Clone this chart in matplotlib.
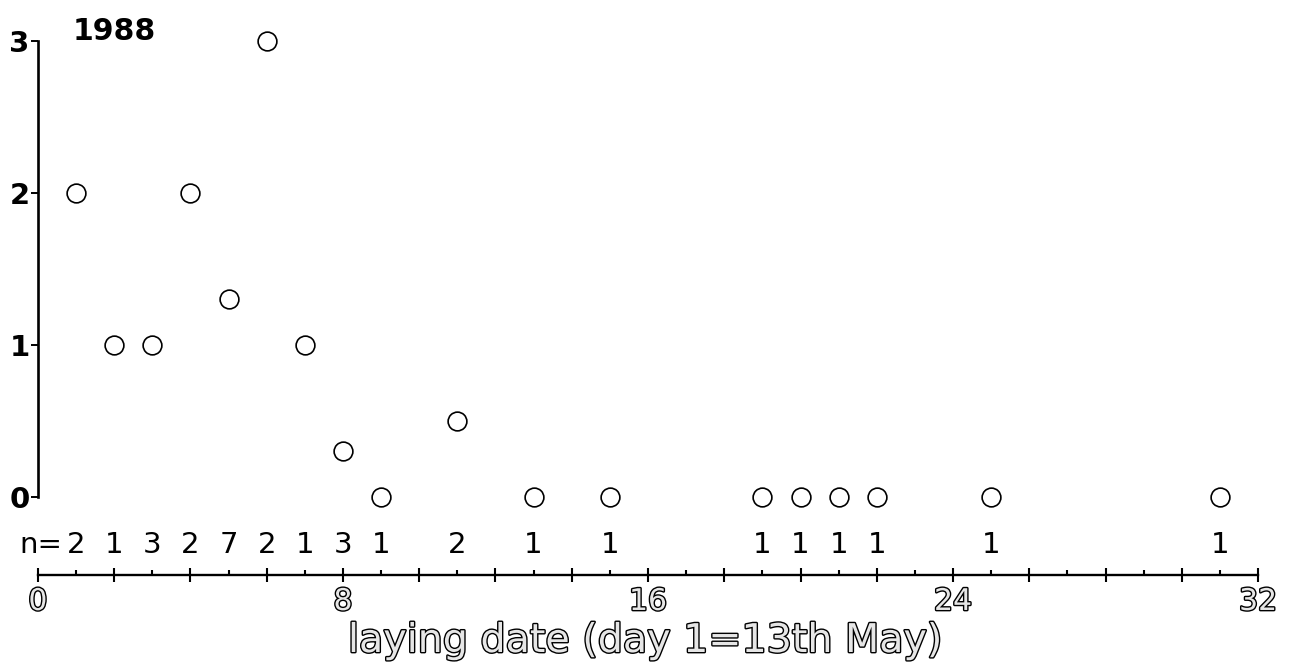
import matplotlib
matplotlib.use("Agg")
import matplotlib.pyplot as plt
import matplotlib.patheffects as pe
from matplotlib.ticker import MultipleLocator, FixedLocator

# Laying date (day 1 = 13th May) and mean value per date, with sample sizes
days = [1, 2, 3, 4, 5, 6, 7, 8, 9, 11, 13, 15, 19, 20, 21, 22, 25, 31]
values = [2, 1, 1, 2, 1.3, 3, 1, 0.3, 0, 0.5, 0, 0, 0, 0, 0, 0, 0, 0]
n_counts = [2, 1, 3, 2, 7, 2, 1, 3, 1, 2, 1, 1, 1, 1, 1, 1, 1, 1]
year_label = "1988"
x_label = "laying date (day 1=13th May)"
x_ticks = [0, 8, 16, 24, 32]
y_ticks = [0, 1, 2, 3]

plt.rcParams["font.family"] = ["DejaVu Sans"]

fig = plt.figure(figsize=(12.96, 6.68), dpi=100)
ax = fig.add_axes([0.0293, 0.1392, 0.9414, 0.8108])

ax.plot(days, values, linestyle="none", marker="o", markersize=13.5,
        markerfacecolor="white", markeredgecolor="black", markeredgewidth=1.2,
        clip_on=False, zorder=3)

X_AXIS_Y = -0.513
ax.set_xlim(0, 32)
ax.set_ylim(X_AXIS_Y, 3.05)

# left spine only spans 0..3; bottom spine lies below the sample-size row
ax.spines["top"].set_visible(False)
ax.spines["right"].set_visible(False)
ax.spines["left"].set_bounds(0, 3)
ax.spines["left"].set_linewidth(1.9)
ax.spines["bottom"].set_linewidth(1.7)

ax.set_yticks(y_ticks)
ax.set_yticklabels([str(v) for v in y_ticks], fontweight="bold")
ax.tick_params(axis="y", direction="out", length=5, width=1.4, pad=1,
               labelsize=21)

ax.xaxis.set_major_locator(MultipleLocator(2))
ax.xaxis.set_minor_locator(FixedLocator(list(range(1, 32, 2))))
ax.tick_params(axis="x", which="major", direction="inout", length=10,
               width=1.5, labelbottom=False)
ax.tick_params(axis="x", which="minor", direction="in", length=3.8, width=1.5)

outline = [pe.withStroke(linewidth=2.0, foreground="black")]
for t in x_ticks:
    ax.text(t, -0.743, str(t), ha="center", va="baseline", fontsize=21.5,
            color="#e6e6e6", path_effects=outline, clip_on=False)

# sample sizes under each point
ax.text(0.63, -0.368, "n=", ha="right", va="baseline", fontsize=21,
        clip_on=False)
for d, n in zip(days, n_counts):
    ax.text(d, -0.368, str(n), ha="center", va="baseline", fontsize=21,
            clip_on=False)

fig.text(73 / 1296, (668 - 40) / 668, year_label, ha="left", va="baseline",
         fontsize=21.5, fontweight="bold")
fig.text(348 / 1296, (668 - 652) / 668, x_label, ha="left", va="baseline",
         fontsize=28.5, color="#e6e6e6", path_effects=outline)

fig.savefig("out.png", dpi=100, facecolor="white")
